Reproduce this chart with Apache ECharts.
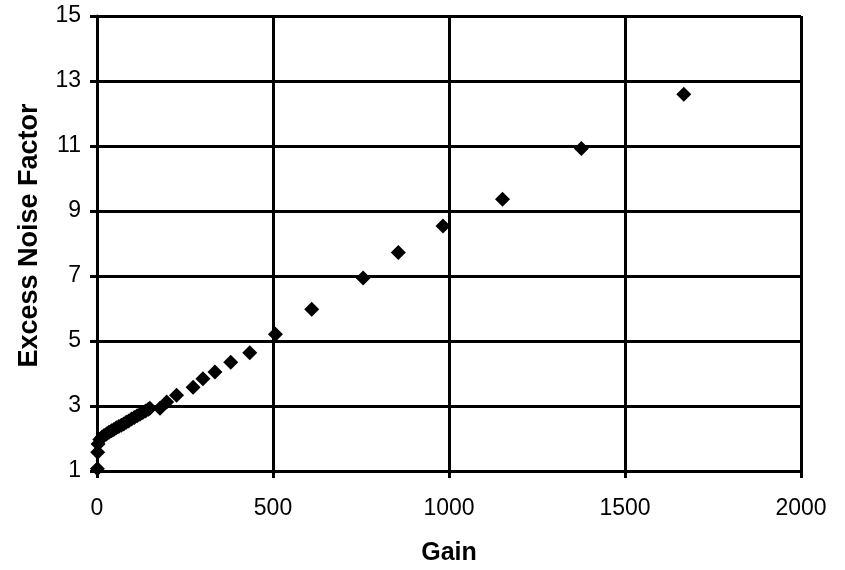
<!DOCTYPE html>
<html>
<head>
<meta charset="utf-8">
<script src="https://cdn.jsdelivr.net/npm/echarts@6/dist/echarts.min.js"></script>
<style>
  html, body { margin: 0; padding: 0; background: #fff; }
  #chart { width: 845px; height: 570px; }
</style>
</head>
<body>
<div id="chart"></div>
<script>
// gain values and the matching excess noise factor
var gain = [1, 2, 3, 8, 14, 20, 27, 34, 41, 48, 55, 62, 69, 76, 83, 90, 98, 106,
            114, 122, 130, 138, 146, 150, 179, 198, 226, 273, 301, 335, 380, 434,
            507, 610, 756, 856, 983, 1152, 1376, 1667];
var enf = [1.07, 1.58, 1.83, 1.97, 2.04, 2.09, 2.14, 2.19, 2.24, 2.28, 2.33, 2.37,
           2.41, 2.45, 2.5, 2.54, 2.6, 2.65, 2.7, 2.75, 2.8, 2.85, 2.9, 2.93, 2.93,
           3.12, 3.33, 3.58, 3.84, 4.05, 4.35, 4.64, 5.21, 5.98, 6.94, 7.72, 8.54,
           9.36, 10.92, 12.59];

var xTitle = 'Gain';
var yTitle = 'Excess Noise Factor';

var points = gain.map(function (g, i) { return [g, enf[i]]; });

var chart = echarts.init(document.getElementById('chart'));
var black = '#000';
var font = '"Liberation Sans", Arial, sans-serif';

chart.setOption({
    animation: false,
    grid: {
        left: 97,
        right: 44,
        top: 16,
        bottom: 99,
        outerBoundsMode: 'none'
    },
    xAxis: {
        type: 'value',
        min: 0,
        max: 2000,
        interval: 500,
        name: xTitle,
        nameLocation: 'middle',
        nameGap: 70,
        nameTextStyle: { color: black, fontFamily: font, fontSize: 25, fontWeight: 'bold' },
        axisLine: { lineStyle: { color: black, width: 3 } },
        axisTick: { show: true, length: 7, lineStyle: { color: black, width: 3 } },
        axisLabel: {
            color: black, fontFamily: font, fontSize: 23, margin: 26,
            formatter: function (v) { return String(v); }
        },
        splitLine: { show: true, lineStyle: { color: black, width: 3 } }
    },
    yAxis: {
        type: 'value',
        min: 1,
        max: 15,
        interval: 2,
        name: yTitle,
        nameLocation: 'middle',
        nameGap: 54,
        nameTextStyle: {
            color: black, fontFamily: font, fontSize: 27, fontWeight: 'bold',
            padding: [0, 0, 0, 16]
        },
        axisLine: { lineStyle: { color: black, width: 3 } },
        axisTick: { show: true, length: 7, lineStyle: { color: black, width: 3 } },
        axisLabel: { color: black, fontFamily: font, fontSize: 23, margin: 16 },
        splitLine: { show: true, lineStyle: { color: black, width: 3 } }
    },
    series: [{
        type: 'scatter',
        symbol: 'diamond',
        symbolSize: 15,
        itemStyle: { color: black, opacity: 1 },
        data: points
    }]
});
</script>
</body>
</html>
